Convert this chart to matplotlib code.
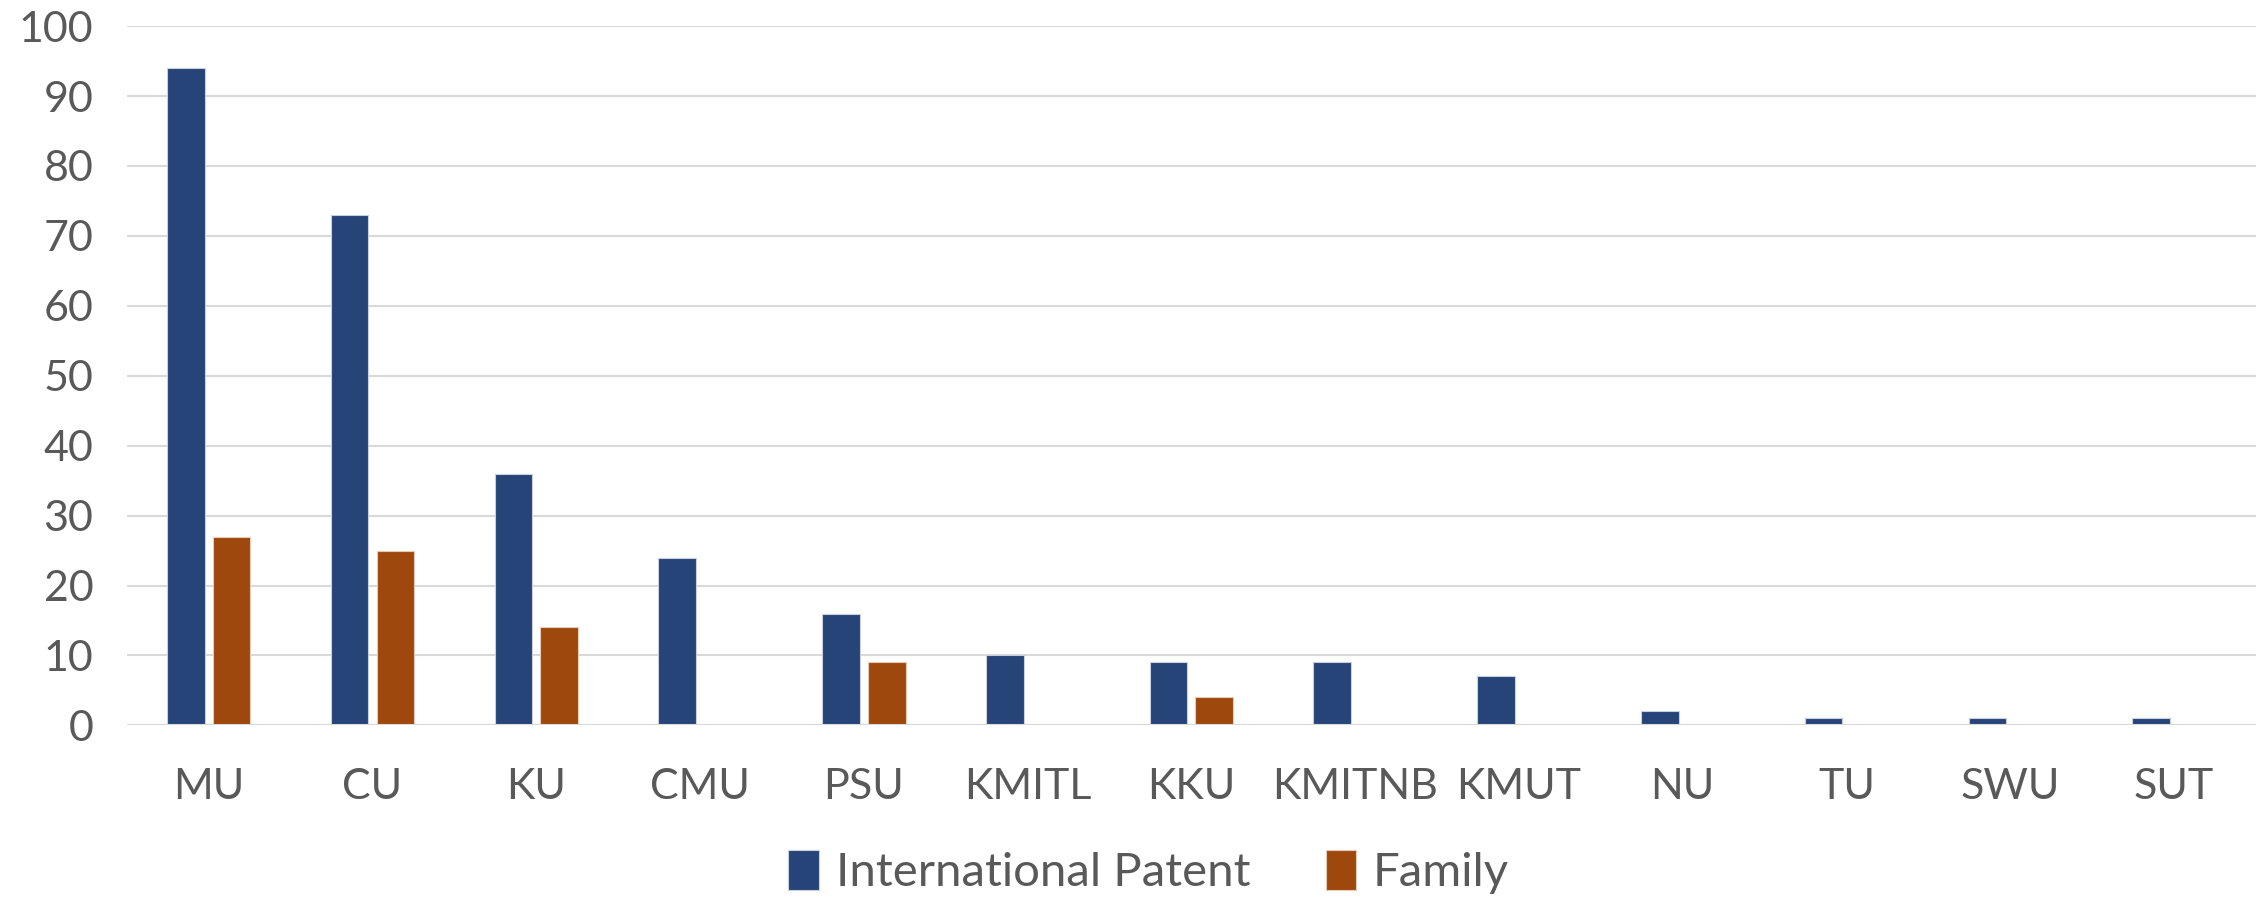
import matplotlib.pyplot as plt
import numpy as np

# university patent counts
universities = ['MU', 'CU', 'KU', 'CMU', 'PSU', 'KMITL', 'KKU', 'KMITNB', 'KMUT', 'NU', 'TU', 'SWU', 'SUT']
international_patent = [94, 73, 36, 24, 16, 10, 9, 9, 7, 2, 1, 1, 1]
family = [27, 25, 14, 0, 9, 0, 4, 0, 0, 0, 0, 0, 0]
y_ticks = [0, 10, 20, 30, 40, 50, 60, 70, 80, 90, 100]

plt.rcParams['font.family'] = ['Lato', 'DejaVu Sans']

fig = plt.figure(figsize=(22.65, 9), dpi=100)
ax = fig.add_axes([0.056, 0.194, 0.94, 0.777])

x = np.arange(len(universities))
w = 0.23
gap = 0.05
ax.bar(x - (w + gap) / 2, international_patent, width=w, color='#264478',
       edgecolor='#c9cfdc', linewidth=0.8, label='International Patent', zorder=3)
ax.bar(x + (w + gap) / 2, [v if v > 0 else np.nan for v in family], width=w, color='#9E480E',
       edgecolor='#e6cbb8', linewidth=0.8, label='Family', zorder=3)

ax.set_xlim(-0.5, len(universities) - 0.5)
ax.set_ylim(0, 100)
ax.set_yticks(y_ticks)
ax.set_xticks(x)
ax.set_xticklabels(universities)
ax.grid(axis='y', color='#d9d9d9', linewidth=1.5, zorder=0)
for s in ['top', 'right', 'left', 'bottom']:
    ax.spines[s].set_visible(False)
ax.axhline(0, color='#d9d9d9', linewidth=1.5, zorder=4)
ax.tick_params(axis='both', length=0, labelsize=31, colors='#595959')
ax.tick_params(axis='x', pad=31)
ax.tick_params(axis='y', pad=24)

ax.legend(loc='center', bbox_to_anchor=(0.48, -0.21), ncol=2, frameon=False,
          fontsize=34, labelcolor='#595959', handlelength=0.65, handleheight=0.9,
          handletextpad=0.35, columnspacing=1.6)

plt.savefig('out.png', dpi=100)
